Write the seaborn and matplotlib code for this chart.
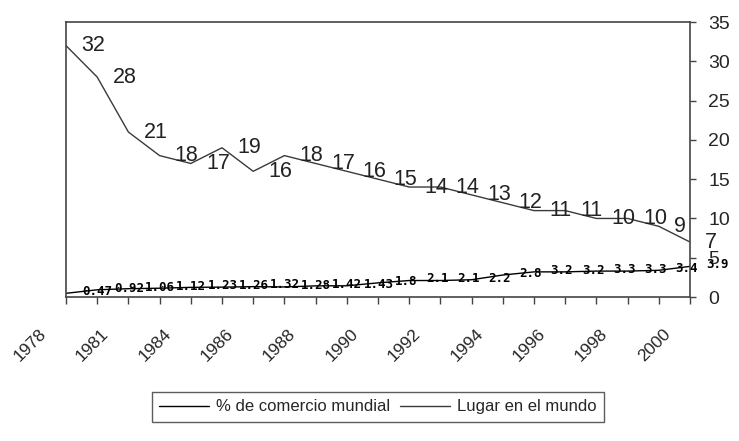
import numpy as np
import pandas as pd
import matplotlib
matplotlib.use("Agg")
import matplotlib.pyplot as plt
import matplotlib.transforms as mtransforms
import seaborn as sns

# Data
years = [1978, 1980, 1981, 1983, 1984, 1985, 1986, 1987, 1988, 1989, 1990,
         1991, 1992, 1993, 1994, 1995, 1996, 1997, 1998, 1999, 2000]
comercio = [0.47, 0.92, 1.06, 1.12, 1.23, 1.26, 1.32, 1.28, 1.42, 1.43, 1.8,
            2.1, 2.1, 2.2, 2.8, 3.2, 3.2, 3.3, 3.3, 3.4, 3.9]
lugar = [32, 28, 21, 18, 17, 19, 16, 18, 17, 16, 15,
         14, 14, 13, 12, 11, 11, 10, 10, 9, 7]
series_names = ["% de comercio mundial", "Lugar en el mundo"]
y_ticks = [0, 5, 10, 15, 20, 25, 30, 35]

PALETTE = {series_names[0]: "black", series_names[1]: "#3a3a3a"}

sns.set_style("white")
plt.rcParams["font.family"] = ["Liberation Sans", "DejaVu Sans"]

pos = np.arange(len(years))
df = pd.concat([
    pd.DataFrame({"pos": pos, "valor": comercio, "serie": series_names[0]}),
    pd.DataFrame({"pos": pos, "valor": lugar, "serie": series_names[1]}),
])

fig = plt.figure(figsize=(7.39, 4.41), dpi=100)
ax = fig.add_axes([0.0893, 0.3265, 0.8444, 0.6235])

sns.lineplot(data=df, x="pos", y="valor", hue="serie", palette=PALETTE,
             linewidth=1.0, ax=ax)

# data labels, placed to the right of each point
for i, v in enumerate(lugar):
    ax.annotate(str(v), (pos[i], v), xytext=(11, 0), textcoords="offset points",
                ha="left", va="center", fontsize=15.5, color="#222222",
                annotation_clip=False)
for i, v in enumerate(comercio):
    ax.annotate(f"{v:g}", (pos[i], v), xytext=(12, 1.2), textcoords="offset points",
                ha="left", va="center", fontsize=9, color="black",
                family="DejaVu Sans Mono", weight="bold", annotation_clip=False)

ax.set_xlim(0, len(years) - 1)
ax.set_ylim(0, 35)
ax.set_xlabel("")
ax.set_ylabel("")

ax.yaxis.tick_right()
ax.set_yticks(y_ticks)
ax.tick_params(axis="y", direction="out", length=4, width=1, color="#444444",
               labelsize=14, pad=9, right=True, left=False)

ax.set_xticks(pos)
ax.set_xticklabels([str(y) if i % 2 == 0 else "" for i, y in enumerate(years)],
                   rotation=45, ha="right", fontsize=12.5)
ax.tick_params(axis="x", direction="out", length=5, width=1, color="#444444",
               pad=16, bottom=True)
shift = mtransforms.ScaledTranslation(-0.17, 0, fig.dpi_scale_trans)
for lbl in ax.get_xticklabels():
    lbl.set_transform(lbl.get_transform() + shift)

for sp in ax.spines.values():
    sp.set_color("#444444")
    sp.set_linewidth(1.2)

sns.move_legend(ax, "center", bbox_to_anchor=(0.5, -0.40), ncol=2, title=None,
                frameon=True, fancybox=False, edgecolor="#333333", fontsize=12,
                handlelength=3.0, columnspacing=0.6, handletextpad=0.4,
                borderpad=0.45)
ax.get_legend().get_frame().set_linewidth(1.0)

plt.savefig("out.png", dpi=100)
